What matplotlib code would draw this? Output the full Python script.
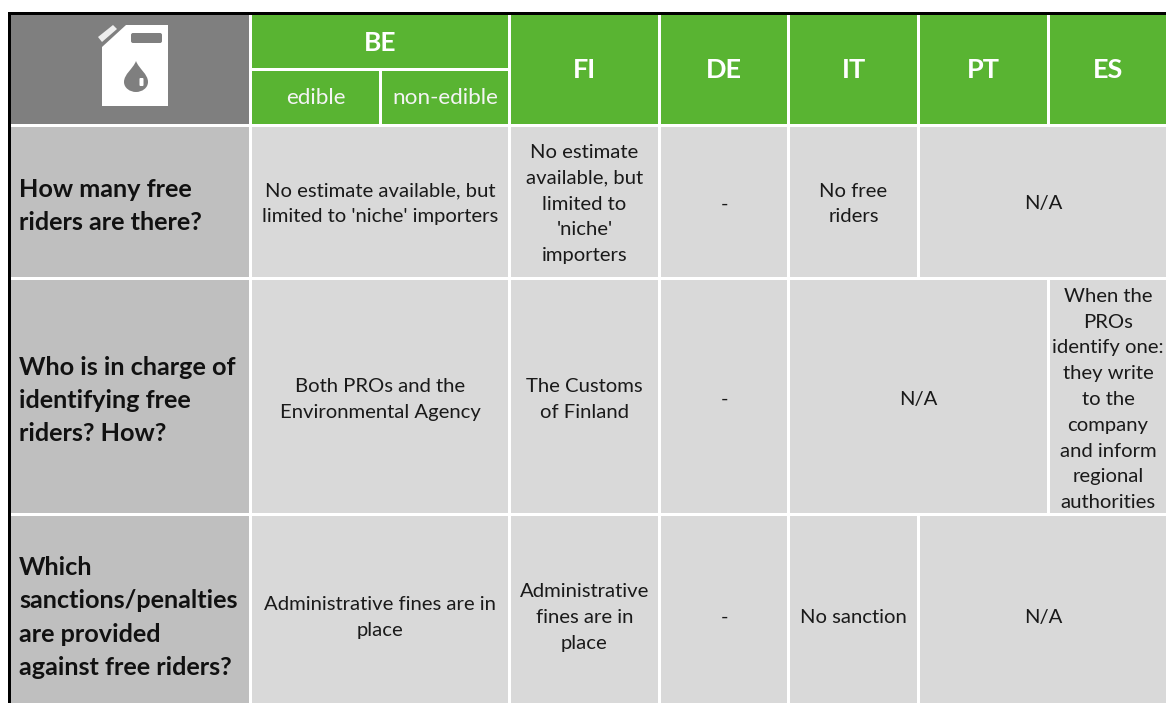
# %%
import matplotlib
matplotlib.use("Agg")
import matplotlib.pyplot as plt
from matplotlib.patches import Rectangle, Polygon, FancyBboxPatch, PathPatch
from matplotlib.path import Path

plt.rcParams['font.family'] = ['Lato', 'DejaVu Sans']

countries = ["FI", "DE", "IT", "PT", "ES"]
be_label = "BE"
be_sub = ["edible", "non-edible"]
questions = ["How many free\nriders are there?",
             "Who is in charge of\nidentifying free\nriders? How?",
             "Which\nsanctions/penalties\nare provided\nagainst free riders?"]

# text of the merged cells, one list per row
row1_text = ["No estimate available, but\nlimited to 'niche' importers",
             "No estimate\navailable, but\nlimited to\n'niche'\nimporters",
             "-", "No free\nriders", "N/A"]
row2_text = ["Both PROs and the\nEnvironmental Agency", "The Customs\nof Finland", "-", "N/A",
             "When the\nPROs\nidentify one:\nthey write\nto the\ncompany\nand inform\nregional\nauthorities"]
row3_text = ["Administrative fines are in\nplace", "Administrative\nfines are in\nplace", "-",
             "No sanction", "N/A"]

GREEN = "#59b432"
DARK = "#7f7f7f"
MID = "#bfbfbf"
LIGHT = "#d9d9d9"

fig = plt.figure(figsize=(11.66, 7.03), dpi=100)
ax = fig.add_axes([0, 0, 1, 1])
ax.set_xlim(0, 1166)
ax.set_ylim(703, 0)
ax.axis("off")


def cell(x0, x1, y0, y1, color):
    ax.add_patch(Rectangle((x0, y0), x1 - x0, y1 - y0, facecolor=color, edgecolor="none"))


def label(x0, x1, y0, y1, s, size=14.6, color="#1a1a1a", **kw):
    ax.text((x0 + x1) / 2, (y0 + y1) / 2, s, ha="center", va="center", fontsize=size,
            color=color, linespacing=1.63, clip_on=True, **kw)


# column edges in pixels
fi = (511, 658)
de = (661, 787)
it = (790, 917)
pt = (920, 1047)
es = (1050, 1166)
be = (252, 508)
rows = [(127, 277), (280, 513), (516, 703)]
# the text sits a little below the middle of each cell, the last row is cut off
text_shift = [2, 3, 8]
question_shift = [4, 4, 8]

# header
cell(11, 249, 15, 124, DARK)
cell(*be, 15, 68, GREEN)
cell(252, 379, 71, 124, GREEN)
cell(382, 508, 71, 124, GREEN)
label(*be, 18, 68, be_label, size=19, color="white", fontweight="bold")
label(252, 379, 73, 124, be_sub[0], size=16.2, color="#f4f4f4")
label(382, 508, 73, 124, be_sub[1], size=16.2, color="#f4f4f4")
for c, (x0, x1) in zip(countries, [fi, de, it, pt, es]):
    cell(x0, x1, 15, 124, GREEN)
    label(x0, x1, 17, 124, c, size=19.5, color="white", fontweight="bold")

# canister icon
ax.add_patch(Polygon([(102, 47), (126, 25), (168, 25), (168, 106), (102, 106)],
                     facecolor="white", edgecolor="none"))
ax.add_patch(Polygon([(98, 37), (113, 25), (117, 29), (102, 42)], facecolor="#eeeeee", edgecolor="none"))
ax.add_patch(FancyBboxPatch((133, 35), 27, 6, boxstyle="round,pad=2", facecolor=DARK, edgecolor="none"))
drop = Path([(136, 61), (133, 69), (124, 74), (124, 82), (124, 88), (130, 92), (136, 92),
             (142, 92), (148, 88), (148, 82), (148, 74), (139, 69), (136, 61)],
            [Path.MOVETO] + [Path.CURVE4] * 12)
ax.add_patch(PathPatch(drop, facecolor=DARK, edgecolor="none"))
ax.add_patch(FancyBboxPatch((140.5, 79), 2, 6, boxstyle="round,pad=1", facecolor="white", edgecolor="none"))

# question column
for (y0, y1), q, dy in zip(rows, questions, question_shift):
    cell(11, 249, y0, y1, MID)
    ax.text(19, (y0 + y1) / 2 + dy, q, ha="left", va="center", fontsize=18.2, fontweight="bold",
            color="#111111", linespacing=1.54)

# row 1
y0, y1 = rows[0]
spans = [be, fi, de, it, (920, 1166)]
for (x0, x1), s in zip(spans, row1_text):
    cell(x0, x1, y0, y1, LIGHT)
    label(x0, x1, y0 + text_shift[0], y1 + text_shift[0], s)

# row 2
y0, y1 = rows[1]
spans = [be, fi, de, (790, 1047), es]
for (x0, x1), s in zip(spans, row2_text):
    cell(x0, x1, y0, y1, LIGHT)
    label(x0, x1, y0 + text_shift[1], y1 + text_shift[1], s)

# row 3
y0, y1 = rows[2]
spans = [be, fi, de, it, (920, 1166)]
for (x0, x1), s in zip(spans, row3_text):
    cell(x0, x1, y0, y1, LIGHT)
    label(x0, x1, y0 + text_shift[2], y1 + text_shift[2], s)

# black frame on top and left
cell(8, 1166, 12, 15, "black")
cell(8, 11, 12, 703, "black")

fig.savefig("out.png", dpi=100)
